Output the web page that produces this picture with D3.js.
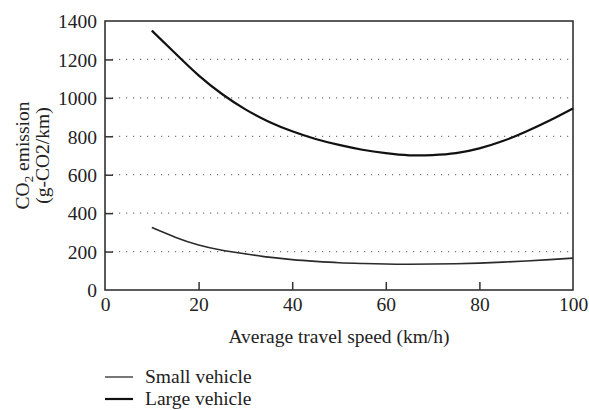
<!DOCTYPE html>
<html>
<head>
<meta charset="utf-8">
<script src="https://cdn.jsdelivr.net/npm/d3@7"></script>
<style>
  html, body { margin: 0; padding: 0; background: #fff; }
  svg text { font-family: "Liberation Serif", "DejaVu Serif", serif; fill: #222; }
</style>
</head>
<body>
<svg id="chart" width="589" height="410"></svg>
<script>
// Average travel speed (km/h)
const speeds = [10, 15, 20, 25, 30, 35, 40, 45, 50, 55, 60, 65, 70, 75, 80, 85, 90, 95, 100];
// CO2 emission (g-CO2/km)
const smallVehicle = [325, 275, 234, 207, 188, 171, 158, 149, 142, 138, 135, 134, 135, 137, 140, 145, 151, 158, 166];
const largeVehicle = [1350, 1232, 1117, 1020, 940, 876, 826, 786, 755, 730, 712, 701, 702, 712, 737, 775, 825, 882, 945];

const xTicks = [0, 20, 40, 60, 80, 100];
const yTicks = [0, 200, 400, 600, 800, 1000, 1200, 1400];
const seriesNames = ["Small vehicle", "Large vehicle"];

const svg = d3.select("#chart");
const m = { left: 105, right: 16, top: 21, bottom: 120 };
const W = 589, H = 410;
const FS = 19.5;

const x = d3.scaleLinear().domain([0, 100]).range([m.left, W - m.right]);
const y = d3.scaleLinear().domain([0, 1400]).range([H - m.bottom, m.top]);

// dotted horizontal grid
svg.append("g")
  .selectAll("line")
  .data(yTicks.filter(t => t > 0 && t < 1400))
  .join("line")
  .attr("x1", x(0)).attr("x2", x(100))
  .attr("y1", d => y(d)).attr("y2", d => y(d))
  .attr("stroke", "#777")
  .attr("stroke-width", 1.2)
  .attr("stroke-dasharray", "1.2,5.8");

// axes with inward ticks
const xAxis = svg.append("g")
  .attr("transform", `translate(0,${y(0)})`)
  .call(d3.axisBottom(x).tickValues(xTicks).tickFormat(d3.format("d")).tickSize(-8).tickPadding(7));
const yAxis = svg.append("g")
  .attr("transform", `translate(${x(0)},0)`)
  .call(d3.axisLeft(y).tickValues(yTicks).tickFormat(d3.format("d")).tickSize(-8).tickPadding(8));

[xAxis, yAxis].forEach(g => {
  g.select(".domain").remove();
  g.selectAll(".tick line").attr("stroke", "#333").attr("stroke-width", 1.5)
    .filter(d => d === 0 || d === 100 || d === 1400).remove();
  g.selectAll(".tick text").attr("font-size", FS).attr("fill", "#222")
    .style("font-family", '"Liberation Serif", serif');
});
yAxis.selectAll(".tick text").attr("dy", "0.35em");
xAxis.selectAll(".tick text").attr("dy", "0.72em");

// frame
svg.append("rect")
  .attr("x", x(0)).attr("y", y(1400))
  .attr("width", x(100) - x(0)).attr("height", y(0) - y(1400))
  .attr("fill", "none").attr("stroke", "#333").attr("stroke-width", 1.6);

// curves
const line = d3.line().x(d => x(d[0])).y(d => y(d[1])).curve(d3.curveNatural);
const styles = [
  { stroke: "#2a2a2a", width: 1.6 },
  { stroke: "#111", width: 2.2 }
];
[smallVehicle, largeVehicle].forEach((vals, i) => {
  svg.append("path")
    .datum(speeds.map((s, k) => [s, vals[k]]))
    .attr("fill", "none")
    .attr("stroke", styles[i].stroke)
    .attr("stroke-width", styles[i].width)
    .attr("d", line);
});

// axis titles
svg.append("text")
  .attr("x", (x(0) + x(100)) / 2).attr("y", 343)
  .attr("text-anchor", "middle").attr("font-size", FS)
  .text("Average travel speed (km/h)");

const yTitle = svg.append("g")
  .attr("transform", `translate(0,${(y(0) + y(1400)) / 2}) rotate(-90)`);
const t1 = yTitle.append("text").attr("x", 0).attr("y", 29)
  .attr("text-anchor", "middle").attr("font-size", FS);
t1.append("tspan").text("CO");
t1.append("tspan").text("2").attr("font-size", 13).attr("dy", 4);
t1.append("tspan").text(" emission").attr("dy", -4);
yTitle.append("text").attr("x", 0).attr("y", 49)
  .attr("text-anchor", "middle").attr("font-size", FS)
  .text("(g-CO2/km)");

// legend
const legend = svg.append("g");
seriesNames.forEach((name, i) => {
  const ly = 377 + i * 22;
  legend.append("line")
    .attr("x1", 105).attr("x2", 133).attr("y1", ly).attr("y2", ly)
    .attr("stroke", i === 0 ? "#555" : "#111")
    .attr("stroke-width", i === 0 ? 1.6 : 2.2);
  legend.append("text")
    .attr("x", 145).attr("y", ly).attr("dy", "0.32em")
    .attr("font-size", FS).text(name);
});
</script>
</body>
</html>
